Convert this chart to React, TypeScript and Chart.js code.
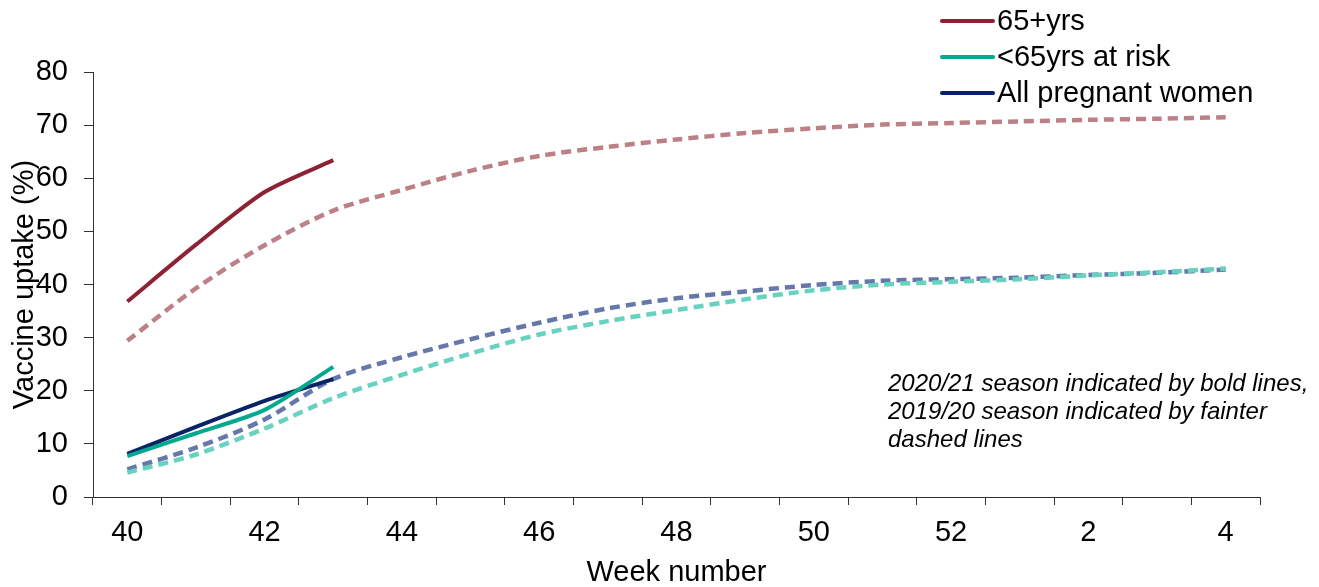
import React, { useEffect, useRef } from 'react';
import { Chart, registerables } from 'chart.js';

Chart.register(...registerables);

const weeks = ['40', '41', '42', '43', '44', '45', '46', '47', '48', '49', '50', '51', '52', '1', '2', '3', '4'];

// 2020/21 season (bold)
const over65_2021 = [36.8, 47.5, 57.4, 63.4];
const under65Risk_2021 = [7.7, 12.0, 16.4, 24.5];
const pregnant_2021 = [8.1, 13.2, 18.1, 22.2];

// 2019/20 season (dashed)
const over65_1920 = [29.4, 39.3, 47.4, 53.9, 57.8, 61.4, 64.2, 65.9, 67.3, 68.5, 69.4, 70.1, 70.4, 70.7, 71.0, 71.2, 71.5];
const under65Risk_1920 = [4.6, 8.0, 12.9, 18.6, 23.0, 27.0, 30.6, 33.1, 35.2, 37.2, 38.9, 40.0, 40.5, 41.0, 41.7, 42.3, 43.0];
const pregnant_1920 = [5.2, 9.3, 14.6, 22.2, 26.3, 29.7, 32.8, 35.5, 37.4, 38.7, 39.9, 40.7, 41.0, 41.3, 41.8, 42.2, 42.8];

const yTicks = [0, 10, 20, 30, 40, 50, 60, 70, 80];

const legendLabels = ['65+yrs', '<65yrs at risk', 'All pregnant women'];
const noteLines = [
  '2020/21 season indicated by bold lines,',
  '2019/20 season indicated by fainter',
  'dashed lines',
];

const FONT = '"Liberation Sans", Arial, sans-serif';

const COLORS = {
  over65: '#8C2233',
  over65Faint: '#BC8086',
  risk: '#00A88E',
  riskFaint: '#66D2BF',
  preg: '#0A2266',
  pregFaint: '#6677AA',
};

export default function App() {
  const ref = useRef<HTMLCanvasElement | null>(null);

  useEffect(() => {
    if (!ref.current) return;

    const customDraw = {
      id: 'customDraw',
      afterDraw(chart: any) {
        const ctx = chart.ctx;
        ctx.save();
        // legend (bold series only)
        const legendDs = chart.data.datasets.filter((d: any) => d.inLegend);
        legendDs.forEach((d: any, i: number) => {
          const y = 21 + i * 36;
          ctx.strokeStyle = d.borderColor;
          ctx.lineWidth = 4;
          ctx.lineCap = 'round';
          ctx.setLineDash([]);
          ctx.beginPath();
          ctx.moveTo(942, y);
          ctx.lineTo(993, y);
          ctx.stroke();
          ctx.fillStyle = '#000';
          ctx.font = `29px ${FONT}`;
          ctx.textAlign = 'left';
          ctx.textBaseline = 'middle';
          ctx.fillText(d.label, 997, y + 1);
        });
        // note
        ctx.fillStyle = '#000';
        ctx.font = `italic 24px ${FONT}`;
        ctx.textAlign = 'left';
        ctx.textBaseline = 'middle';
        const ys = [384, 412, 440];
        noteLines.forEach((t, i) => ctx.fillText(t, 888, ys[i]));
        ctx.restore();
      },
    };

    const bold = (label: string, data: number[], color: string) => ({
      label,
      data,
      borderColor: color,
      backgroundColor: color,
      borderWidth: 4,
      pointRadius: 0,
      tension: 0.25,
      fill: false,
      inLegend: true,
    });
    const dashed = (label: string, data: number[], color: string) => ({
      label,
      data,
      borderColor: color,
      backgroundColor: color,
      borderWidth: 4.5,
      borderDash: [10, 6],
      pointRadius: 0,
      tension: 0.3,
      fill: false,
      inLegend: false,
    });

    const chart = new Chart(ref.current, {
      type: 'line',
      data: {
        labels: weeks,
        datasets: [
          bold(legendLabels[0], over65_2021, COLORS.over65),
          bold(legendLabels[1], under65Risk_2021, COLORS.risk),
          bold(legendLabels[2], pregnant_2021, COLORS.preg),
          dashed(legendLabels[0] + ' 2019/20', over65_1920, COLORS.over65Faint),
          dashed(legendLabels[1] + ' 2019/20', under65Risk_1920, COLORS.riskFaint),
          dashed(legendLabels[2] + ' 2019/20', pregnant_1920, COLORS.pregFaint),
        ] as any,
      },
      options: {
        animation: false,
        responsive: true,
        maintainAspectRatio: false,
        layout: { padding: { top: 72, right: 59, left: 0, bottom: 0 } },
        plugins: {
          legend: { display: false },
          tooltip: { enabled: false },
        },
        scales: {
          x: {
            type: 'category',
            offset: true,
            grid: {
              offset: true,
              drawOnChartArea: false,
              drawTicks: true,
              tickLength: 8,
              color: '#333333',
            },
            border: { display: true, color: '#333333', width: 1 },
            ticks: {
              autoSkip: false,
              maxRotation: 0,
              padding: 11,
              color: '#000',
              font: { family: FONT, size: 29 },
              callback: (_v: any, i: number) => (i % 2 === 0 ? weeks[i] : ''),
            },
            title: {
              display: true,
              text: 'Week number',
              color: '#000',
              font: { family: FONT, size: 29, lineHeight: 1 },
              padding: { top: -2, bottom: 0 },
            },
            afterFit: (s: any) => {
              s.height = 90;
            },
          },
          y: {
            min: 0,
            max: 80,
            afterBuildTicks: (s: any) => {
              s.ticks = yTicks.map((v) => ({ value: v }));
            },
            grid: {
              drawOnChartArea: false,
              drawTicks: true,
              tickLength: 9,
              color: '#333333',
            },
            border: { display: true, color: '#333333', width: 1 },
            ticks: {
              padding: 16,
              color: '#000',
              font: { family: FONT, size: 29 },
            },
            title: {
              display: true,
              text: 'Vaccine uptake (%)',
              color: '#000',
              font: { family: FONT, size: 29, lineHeight: 1 },
              padding: { top: 10, bottom: 0 },
            },
            afterFit: (s: any) => {
              s.width = 93;
            },
          },
        },
      } as any,
      plugins: [customDraw],
    });

    return () => chart.destroy();
  }, []);

  return (
    <div style={{ position: 'fixed', left: 0, top: 0, width: 1319, height: 587, background: '#fff' }}>
      <canvas ref={ref} />
    </div>
  );
}
